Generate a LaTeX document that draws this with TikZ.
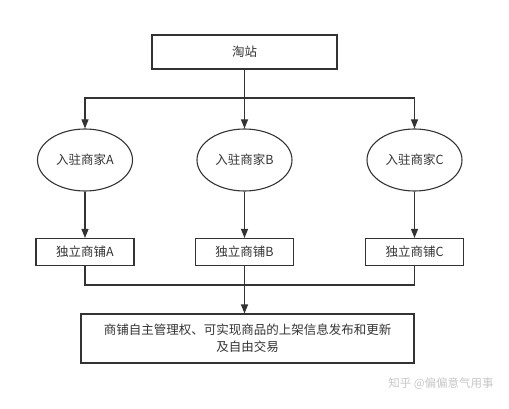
\documentclass[tikz,border=0pt]{standalone}
\usepackage{fontspec}
\setmainfont{Noto Sans CJK SC}
\usetikzlibrary{arrows.meta,positioning,shapes.geometric}
\definecolor{linegray}{HTML}{333333}
\begin{document}
\begin{tikzpicture}[x=1pt, y=1pt, ->, >={Triangle[width=7pt,length=9pt]}, node distance=92pt, on grid,
  line width=1.1pt, draw=linegray,
  box node/.style={rectangle, draw=linegray, inner sep=0pt, minimum width=98pt, minimum height=27pt},
  shop node/.style={ellipse, draw=linegray, inner sep=0pt, minimum width=95pt, minimum height=62pt}]
        \tikzstyle{every node}=[font=\fontsize{12.5}{17}\selectfont, text=linegray]

          \useasboundingbox (0,0) rectangle (509,-409);

          \node[box node, minimum width=185pt, minimum height=34pt] (1) at (244.5,-52) {淘站};
          \node[shop node] (2) at (85,-160) {入驻商家A};
          \node[shop node] (3) at (244.5,-160) {入驻商家B};
          \node[shop node] (4) at (414.5,-160) {入驻商家C};
          \node[box node] (5) [below=of 2] {独立商铺A};
          \node[box node] (6) [below=of 3] {独立商铺B};
          \node[box node] (7) [below=of 4] {独立商铺C};
          \node[box node, minimum width=333pt, minimum height=49pt, align=center] (8) at (247.5,-338.5)
            {商铺自主管理权、可实现商品的上架信息发布和更新\\及自由交易};
          \node[text=black!22, font=\fontsize{11.5}{14}\selectfont] (9) at (441,-384) {知乎 @偏偏意气用事};

          \coordinate (10) at (244.5,-98);
          \coordinate (11) at (244.5,-285);

          \path[draw=linegray]
            (1) edge (3)
            (2) edge (5)
            (3) edge (6)
            (4) edge (7);
          \draw[draw=linegray] (10) -| (2);
          \draw[draw=linegray] (10) -| (4);
          \draw[-, draw=linegray] (5) |- (11) -| (7);
          \draw[draw=linegray] (6) -- (6 |- 8.north);

        \end{tikzpicture}
\end{document}
